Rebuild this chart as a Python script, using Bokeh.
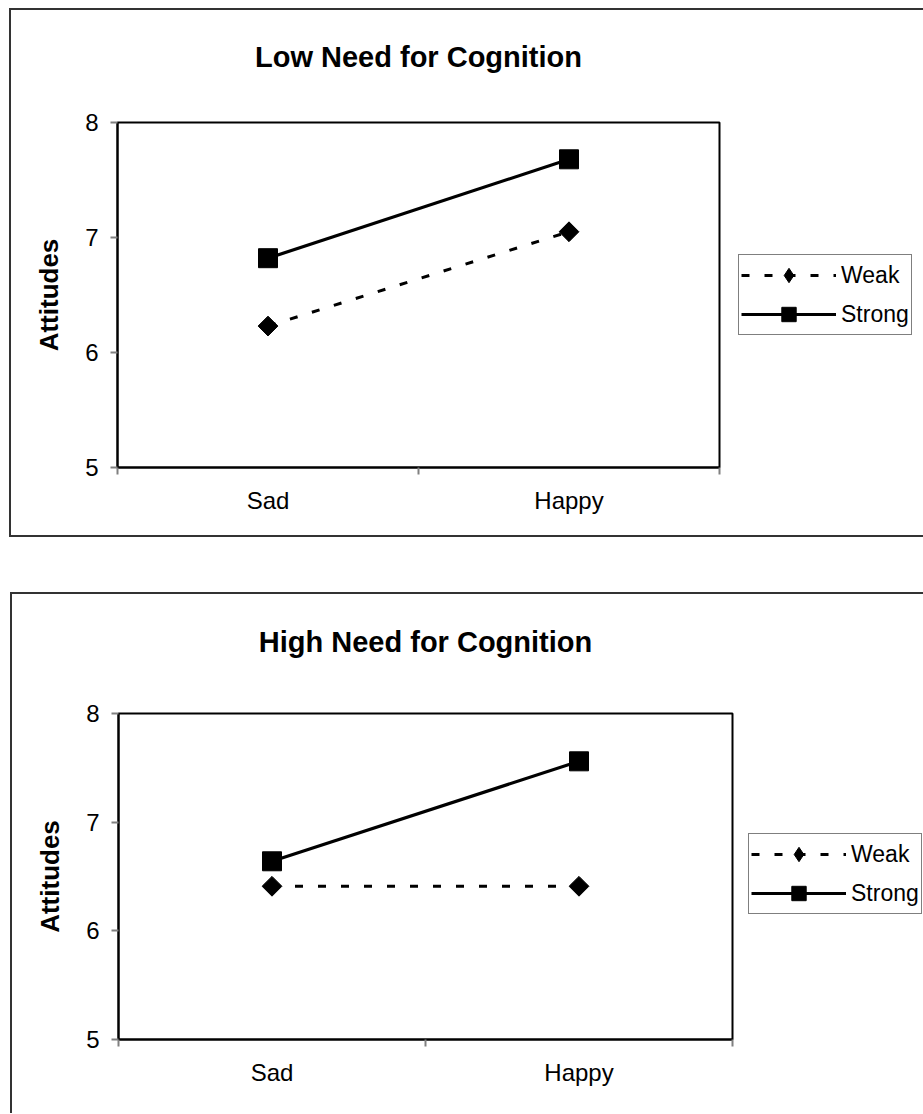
import math
from bokeh.plotting import figure
from bokeh.models import Legend, LegendItem, FixedTicker, Range1d, LinearAxis
from bokeh.layouts import column
from bokeh.embed import file_html
from bokeh.resources import INLINE

# ---- data ----
categories = ["Sad", "Happy"]
series_names = ["Weak", "Strong"]
low_weak = [6.23, 7.05]
low_strong = [6.82, 7.68]
high_weak = [6.41, 6.41]
high_strong = [6.64, 7.56]
y_ticks = [5, 6, 7, 8]
titles = ["Low Need for Cognition", "High Need for Cognition"]
y_label = "Attitudes"

FONT = "Liberation Sans"


def make_chart(title, weak, strong, geo):
    xs = [i + 0.5 for i in range(len(categories))]
    p = figure(
        frame_width=geo["fw"], frame_height=geo["fh"],
        min_border_left=geo["bl"], min_border_right=geo["br"],
        min_border_top=geo["bt"], min_border_bottom=geo["bb"],
        x_range=Range1d(0, len(categories)), y_range=Range1d(min(y_ticks), max(y_ticks)),
        output_backend="svg", toolbar_location=None,
        background_fill_color="white", border_fill_color="white",
        title=None,
    )
    p.grid.visible = False
    p.outline_line_color = "black"
    p.outline_line_width = 2

    # x axis (the category axis below the frame)
    xa = p.below[0]
    xa.ticker = FixedTicker(ticks=xs, minor_ticks=list(range(len(categories) + 1)))
    xa.major_label_overrides = {x: c for x, c in zip(xs, categories)}
    xa.major_tick_out = 0
    xa.major_tick_in = 0
    xa.major_tick_line_color = None
    xa.minor_tick_out = 7
    xa.minor_tick_in = 0
    xa.minor_tick_line_color = "#808080"
    xa.minor_tick_line_width = 2
    xa.axis_line_color = "black"
    xa.axis_line_width = 2
    xa.major_label_standoff = 12
    xa.major_label_text_font = FONT
    xa.major_label_text_font_size = "24px"
    xa.major_label_text_color = "black"

    # y axis
    ya = p.left[0]
    ya.ticker = FixedTicker(ticks=y_ticks, minor_ticks=[])
    ya.major_tick_out = 7
    ya.major_tick_in = 0
    ya.major_tick_line_color = "#808080"
    ya.major_tick_line_width = 2
    ya.minor_tick_line_color = None
    ya.axis_line_color = "black"
    ya.axis_line_width = 2
    ya.major_label_standoff = 12
    ya.major_label_text_font = FONT
    ya.major_label_text_font_size = "24px"
    ya.major_label_text_color = "black"
    ya.axis_label = y_label
    ya.axis_label_text_font = FONT
    ya.axis_label_text_font_size = "26px"
    ya.axis_label_text_font_style = "bold"
    ya.axis_label_text_color = "black"
    ya.axis_label_standoff = 18

    # chart title drawn as the label of a bare axis above the frame
    ta = LinearAxis(
        ticker=FixedTicker(ticks=[], minor_ticks=[]),
        axis_line_color=None, major_tick_line_color=None, minor_tick_line_color=None,
        major_tick_out=0, major_tick_in=0, minor_tick_out=0, minor_tick_in=0,
        axis_label=title, axis_label_standoff=geo["tstand"],
        axis_label_text_font=FONT, axis_label_text_font_size="29px",
        axis_label_text_font_style="bold", axis_label_text_color="black",
    )
    p.add_layout(ta, "above")

    lw = p.line(xs, weak, line_color="black", line_width=3, line_dash="8 15")
    sw = p.scatter(xs, weak, marker="square", angle=math.pi / 4, size=14,
                   fill_color="black", line_color="black")
    # zero-size twin used only so the legend shows a diamond
    sw_leg = p.scatter(xs, weak, marker="diamond", size=0,
                       fill_color="black", line_color="black")
    ls = p.line(xs, strong, line_color="black", line_width=3.2)
    ss = p.scatter(xs, strong, marker="square", size=19,
                   fill_color="black", line_color="black")

    legend = Legend(
        items=[LegendItem(label=series_names[0], renderers=[lw, sw_leg]),
               LegendItem(label=series_names[1], renderers=[ls, ss])],
        location=(geo["lx"], geo["ly"]),
        orientation="vertical",
        border_line_color="black", border_line_width=1,
        background_fill_color="white", background_fill_alpha=1,
        label_text_font=FONT, label_text_font_size="23px", label_text_color="black",
        glyph_width=95, glyph_height=36, label_height=36,
        label_standoff=5, spacing=3, padding=2, margin=0,
    )
    p.add_layout(legend, "right")
    return p


geo_top = dict(fw=600, fh=341, bl=106, br=206, bt=112, bb=72,
               lx=19, ly=132, tstand=50)
geo_bot = dict(fw=612, fh=324, bl=103, br=196, bt=119, bb=76,
               lx=16, ly=125, tstand=56)

p1 = make_chart(titles[0], low_weak, low_strong, geo_top)
p2 = make_chart(titles[1], high_weak, high_strong, geo_bot)

p1.margin = (8, 0, 0, 9)
p2.margin = (55, 0, 0, 10)
p1.styles = {"border-top": "2px solid #333", "border-left": "2px solid #333",
             "border-bottom": "2px solid #333"}
p2.styles = {"border-top": "2px solid #333", "border-left": "2px solid #333"}

layout = column(p1, p2, spacing=0)

open("out.html", "w").write(file_html(layout, INLINE))
